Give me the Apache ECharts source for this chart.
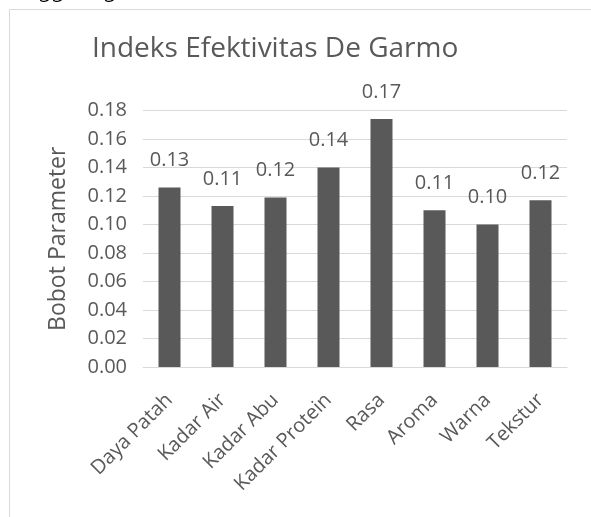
<!DOCTYPE html>
<html>
<head>
<meta charset="utf-8">
<script src="https://cdn.jsdelivr.net/npm/echarts@6/dist/echarts.min.js"></script>
<style>
  html, body { margin: 0; padding: 0; background: #fff; }
  #chart { width: 591px; height: 517px; }
</style>
</head>
<body>
<div id="chart"></div>
<script>
// data
var categories = ['Daya Patah', 'Kadar Air', 'Kadar Abu', 'Kadar Protein', 'Rasa', 'Aroma', 'Warna', 'Tekstur']
var bobot = [0.126, 0.113, 0.119, 0.140, 0.174, 0.110, 0.100, 0.117]

var textColor = '#595959'
var fontName = 'Open Sans'

var dom = echarts.init(document.getElementById('chart'))
var option = {
  animation: false,
  textStyle: { fontFamily: fontName },
  title: {
    text: 'Indeks Efektivitas De Garmo',
    left: 92,
    top: 35,
    padding: 0,
    textStyle: { color: textColor, fontSize: 28, fontWeight: 'normal', fontFamily: fontName }
  },
  graphic: [
    // frame round the chart
    { type: 'line', shape: { x1: 9.5, y1: 9.5, x2: 591, y2: 9.5 }, style: { stroke: '#d9d9d9', lineWidth: 1 } },
    { type: 'line', shape: { x1: 9.5, y1: 9.5, x2: 9.5, y2: 517 }, style: { stroke: '#d9d9d9', lineWidth: 1 } },
    // cut off text from the page above
    {
      type: 'text', left: 40, top: -23,
      style: { text: 'gganag', font: 'italic 26px "Liberation Serif"', fill: '#000' }
    }
  ],
  grid: { left: 143, right: 24, top: 110.5, bottom: 150 },
  xAxis: {
    type: 'category',
    data: categories,
    axisLine: { lineStyle: { color: '#d9d9d9', width: 1 } },
    axisTick: { show: false },
    axisLabel: { rotate: 45, margin: 30, color: textColor, fontSize: 20, fontFamily: fontName, interval: 0 }
  },
  yAxis: {
    type: 'value',
    min: 0,
    max: 0.18,
    interval: 0.02,
    name: 'Bobot Parameter',
    nameLocation: 'middle',
    nameGap: 73,
    nameTextStyle: { color: textColor, fontSize: 23, fontFamily: fontName },
    axisLine: { show: false },
    axisTick: { show: false },
    splitLine: { lineStyle: { color: '#d9d9d9', width: 1 } },
    axisLabel: {
      margin: 16,
      color: textColor,
      fontSize: 20,
      fontFamily: fontName,
      formatter: function (v) { return v.toFixed(2) }
    }
  },
  series: [
    {
      type: 'bar',
      data: bobot,
      barWidth: 22,
      itemStyle: { color: '#595959' },
      label: {
        show: true,
        position: 'top',
        distance: 17,
        color: textColor,
        fontSize: 20,
        fontFamily: fontName,
        formatter: function (p) { return p.value.toFixed(2) }
      }
    }
  ]
}
dom.setOption(option)
</script>
</body>
</html>
